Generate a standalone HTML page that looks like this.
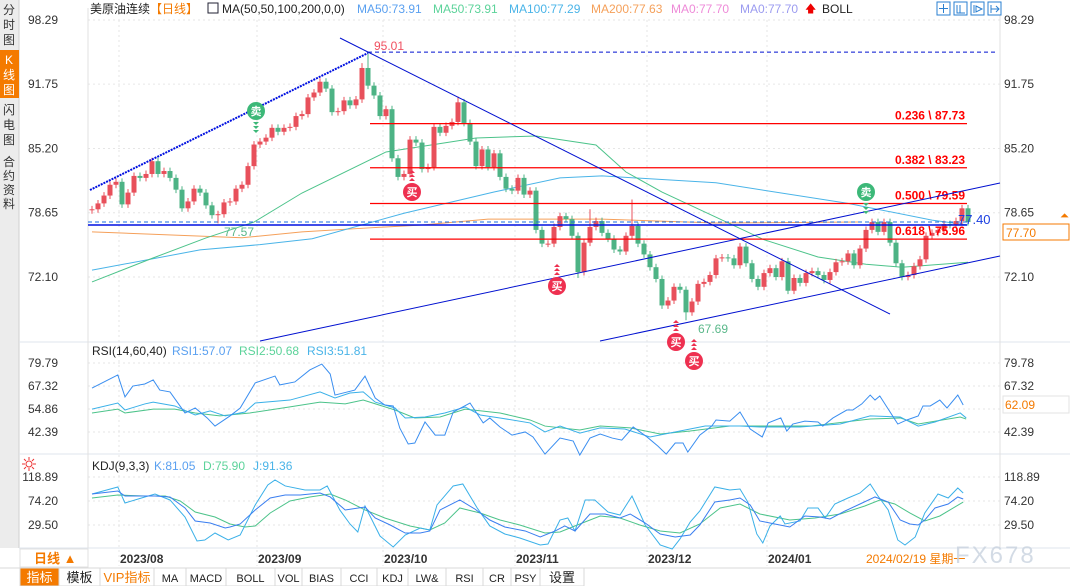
<!DOCTYPE html>
<html><head><meta charset="utf-8">
<style>
body{margin:0;width:1070px;height:586px;overflow:hidden;background:#fff;font-family:"Liberation Sans","Noto Sans CJK SC",sans-serif;}
svg{display:block}
text{font-family:"Liberation Sans","Noto Sans CJK SC",sans-serif}
</style></head><body>
<svg id="chart" width="1070" height="586" viewBox="0 0 1070 586">
<rect x="0" y="0" width="19" height="548" fill="#ececec"/>
<line x1="19" y1="0" x2="19" y2="548" stroke="#cfcfcf"/>
<rect x="0" y="50" width="19" height="48" fill="#f47a00"/>
<g font-size="12" text-anchor="middle" fill="#333">
<g><text x="9" y="14">分</text><text x="9" y="29">时</text><text x="9" y="44">图</text></g>
<g fill="#fff"><text x="9" y="64">K</text><text x="9" y="79">线</text><text x="9" y="94">图</text></g>
<g><text x="9" y="114">闪</text><text x="9" y="129">电</text><text x="9" y="144">图</text></g>
<g><text x="9" y="166">合</text><text x="9" y="180">约</text><text x="9" y="194">资</text><text x="9" y="208">料</text></g>
</g>
<g id="grid" stroke="#e6e6e6" stroke-dasharray="2,3"></g>
<line x1="19" y1="342" x2="1070" y2="342" stroke="#dfe6ee"/>
<line x1="19" y1="454" x2="1070" y2="454" stroke="#dfe6ee"/>
<line x1="19" y1="548" x2="1070" y2="548" stroke="#dfe6ee"/>
<line x1="88" y1="8" x2="88" y2="548" stroke="#e0e0e0"/>
<line x1="1000" y1="8" x2="1000" y2="548" stroke="#e0e0e0"/>
<g id="mas"></g>
<g id="candles"></g>
<g id="overlays"></g>
<g id="ind"></g>
<g id="axes" font-size="12" fill="#333"></g>
<g font-size="12">
<text x="90" y="13" fill="#222">美原油连续</text>
<text x="150" y="13" fill="#f47a00">【日线】</text>
<rect x="208" y="3" width="10" height="10" fill="none" stroke="#223"/>
<text x="222" y="13" fill="#222">MA(50,50,100,200,0,0)</text>
<text x="357" y="13" fill="#5aa0f0">MA50:73.91</text>
<text x="433" y="13" fill="#5cd39a">MA50:73.91</text>
<text x="509" y="13" fill="#4ab4e8">MA100:77.29</text>
<text x="591" y="13" fill="#f5a05a">MA200:77.63</text>
<text x="671" y="13" fill="#ee8ad8">MA0:77.70</text>
<text x="740" y="13" fill="#9b9bf0">MA0:77.70</text>
<text x="805" y="12" fill="#e00" font-size="11">🡅</text>
<text x="822" y="13" fill="#222">BOLL</text>
</g>
<g stroke="#2a7fd0" fill="#fff">
<rect x="937" y="2" width="13" height="13"/><rect x="954" y="2" width="13" height="13"/><rect x="971" y="2" width="13" height="13"/><rect x="988" y="2" width="13" height="13"/>
<path d="M943.5 4v9M939 8.5h9M957 5v8h8M960 5v8M974 5v8M976 6l6 3-6 3zM991 5v8M991 9h8M996 6l3 3-3 3" fill="none"/>
</g>
<g font-size="12">
<text x="92" y="355" fill="#222">RSI(14,60,40)</text>
<text x="172" y="355" fill="#5aa0f0">RSI1:57.07</text>
<text x="239" y="355" fill="#5cd39a">RSI2:50.68</text>
<text x="307" y="355" fill="#4ab4e8">RSI3:51.81</text>
</g>
<g font-size="12">
<text x="92" y="470" fill="#222">KDJ(9,3,3)</text>
<text x="154" y="470" fill="#5aa0f0">K:81.05</text>
<text x="203" y="470" fill="#5cd39a">D:75.90</text>
<text x="253" y="470" fill="#4ab4e8">J:91.36</text>
</g>
<g stroke="#e33" fill="none"><circle cx="29" cy="464" r="3"/><path d="M29 457v3M29 468v3M22 464h3M33 464h3M24 459l2 2M32 467l2 2M24 469l2-2M32 461l2-2"/></g>
<rect x="20" y="549" width="68" height="18" fill="#fff" stroke="#e0e0e0"/>
<text x="34" y="563" font-size="13" fill="#f47a00" font-weight="bold">日线 ▲</text>
<g id="dates" font-size="12" font-weight="bold" fill="#333"></g>
<text x="866" y="563" font-size="12" fill="#f47a00">2024/02/19 星期一</text>
<text x="955" y="563" font-size="24" fill="#c9d3df" opacity="0.8" letter-spacing="2">FX678</text>
<g id="toolbar" font-size="12"></g>
</svg>
<script>
const closes=[79.0,79.6,80.4,81.5,81.8,79.5,80.7,82.4,82.2,82.6,83.9,82.6,82.9,82.2,81.0,79.1,79.8,81.1,80.7,79.4,78.4,78.5,79.7,79.8,81.1,81.5,83.4,85.6,85.9,86.3,87.3,86.9,87.3,87.4,88.5,88.7,90.4,90.9,92.0,91.3,88.9,89.0,90.1,89.6,90.2,93.4,91.6,90.6,88.5,89.2,84.2,82.3,82.6,86.1,85.8,83.1,83.3,87.4,86.8,87.5,87.9,89.9,87.8,85.9,83.4,85.1,83.3,84.7,82.3,81.1,80.9,82.2,80.5,80.9,76.9,75.5,75.5,77.2,78.3,78.0,76.3,72.6,75.6,77.2,77.8,76.6,76.0,74.9,74.7,76.3,77.3,75.5,74.4,73.1,71.9,69.2,69.7,71.1,70.8,68.5,69.6,71.4,71.6,72.3,74.0,74.1,74.0,73.3,75.2,73.5,71.9,71.1,72.5,73.0,72.1,73.7,70.7,72.0,71.5,72.5,72.7,72.3,71.8,72.6,73.6,73.7,74.5,73.3,75.0,76.9,77.7,76.7,77.7,75.6,73.5,72.1,72.3,73.2,73.9,76.3,76.6,76.9,77.5,77.4,77.8,79.1,77.7];
const firstOpen=78.9;
const highOverrides=[[45,93.9],[46,95.01],[61,90.5],[83,79.0],[90,80.0]];
const lowOverrides=[[21,77.57],[99,67.69],[81,72.0]];
const ma50=[[0,71.6],[10,74.0],[19,76.08],[27,77.7],[35,80.66],[49,84.84],[64,86.27],[74,86.47],[84,85.55],[89,82.8],[95,80.76],[104,78.2],[112,75.9],[121,74.14],[129,73.4],[135,73.1],[146,73.6]];
const ma100=[[0,72.8],[18,74.86],[28,75.4],[36.7,76.0],[52,78.6],[67,80.76],[78,82.2],[85,82.4],[104,81.7],[126,79.6],[140,77.9],[146,77.4]];
const ma200=[[0,76.7],[25,76.1],[35,76.7],[46,77.1],[55,77.4],[66,78.0],[85,78.0],[104,77.6],[128,77.7]];
const fibLevels=[87.73,83.23,79.59,75.96];
const fibRatios=["0.236","0.382","0.500","0.618"];
const mainTicks=[98.29,91.75,85.20,78.65,72.10];
const rsiTicks=[79.79,67.32,54.86,42.39];
const rsiRightTicks=[79.78,67.32,42.39];
const kdjTicks=[118.89,74.20,29.50];
const rsi1=[[0,66.2],[4.3,73.3],[5.5,61.4],[6.8,67.3],[8.8,68.4],[10.2,70.6],[11.3,65.1],[13,64.1],[15.5,52.7],[17.2,55.4],[19.2,50.0],[20.5,45.6],[23,51.1],[24.7,55.4],[27.2,69.0],[30.5,72.7],[31.3,67.9],[33.8,69.5],[36.3,76.0],[38.3,79.2],[39.7,73.8],[40.5,62.4],[43.8,65.1],[45.5,72.7],[47.2,60.8],[48.8,57.0],[50.2,56.5],[51.3,44.5],[52.7,35.9],[53.8,36.4],[55.5,47.8],[57.2,40.7],[58.8,40.7],[60.2,53.2],[63,58.1],[65.2,47.3],[66.3,50.0],[68,45.1],[70,40.7],[72.2,42.4],[73.5,39.7],[75.5,30.4],[78,39.1],[80.2,37.5],[81.3,29.9],[83,39.1],[84.7,41.3],[86.7,39.1],[88.3,38.0],[90.2,45.1],[92.5,39.7],[94.3,34.8],[95.7,30.4],[97.2,36.4],[98.5,36.4],[99.3,31.5],[101.3,40.7],[103.3,45.6],[104,48.9],[106.3,48.3],[108,53.2],[109.7,44.0],[111.7,39.7],[112.7,47.3],[114.8,50.0],[115.8,42.9],[116.8,46.7],[118.8,48.3],[121,47.8],[121.8,45.6],[123.5,50.0],[125.8,54.3],[126.8,54.3],[128.3,57.6],[129.7,62.4],[130.5,59.7],[131.3,61.9],[134.3,46.7],[135.8,48.9],[137.7,51.1],[138.5,56.5],[139.7,56.5],[141.3,59.7],[142.5,55.4],[144.3,62.4],[145.2,57.0]];
const rsi2=[[0,52.7],[4.3,54.8],[5.5,52.7],[10.2,54.8],[13.8,54.8],[17.2,52.7],[21.3,51.1],[26.3,52.7],[33,56.0],[38,58.6],[42.2,57.6],[45.2,59.7],[50.5,54.3],[53.8,50.0],[58,50.5],[62.2,54.8],[68,52.7],[73,48.9],[75.5,45.6],[81.3,43.5],[84.7,45.6],[89.7,44.6],[94.7,41.3],[99.7,42.9],[106.3,45.6],[113,45.6],[119.7,45.6],[129.7,49.4],[134.7,50.0],[137.7,46.7],[144.7,50.5],[145.7,49.4]];
const rsi3=[[0,54.8],[4.3,58.1],[5.5,54.3],[8.8,57.6],[10.2,58.6],[13.8,56.5],[17.2,51.6],[19.7,53.8],[22.2,51.1],[25.5,53.2],[27.2,58.1],[33,59.7],[38,64.1],[40.5,60.8],[43,63.5],[45.2,64.1],[47.2,58.6],[50.5,55.4],[52.2,50.0],[55.5,50.5],[58.8,52.7],[62.2,55.9],[64.7,51.6],[68,50.0],[73,47.3],[75.5,42.4],[78,45.6],[81.3,41.8],[84.7,44.6],[88.8,44.0],[93,39.7],[98,42.9],[102.2,45.6],[108,45.6],[111.3,45.1],[118,45.1],[124.7,46.7],[129.7,51.1],[134.7,50.5],[137.7,45.6],[140.5,47.8],[144.7,52.7],[145.7,50.0]];
const kdjK=[[0,87.2],[4.3,92.8],[5.5,83.5],[8.8,83.5],[10.5,83.5],[13,81.7],[15.5,61.2],[17.2,37.0],[19.7,33.2],[22.2,23.9],[23,25.8],[24.7,31.4],[27.2,57.5],[29.7,79.8],[32.2,85.4],[34.7,85.4],[38,89.1],[39.7,81.7],[42.2,57.5],[45.5,63.0],[47.2,42.6],[49.7,29.5],[52.2,14.6],[54.7,14.6],[56.3,18.4],[58,57.5],[61.3,76.1],[63.8,59.3],[66.3,38.8],[68.8,25.8],[72.2,18.4],[74.7,7.2],[77.2,18.4],[78.8,27.7],[80.5,18.4],[83,50.0],[85.5,50.0],[88,42.6],[89.7,50.0],[92.2,33.2],[94.7,12.8],[97.2,7.2],[99.7,10.9],[101.3,29.5],[103.8,72.3],[106.3,76.1],[108,79.8],[109.7,66.8],[111.3,37.0],[113.8,31.4],[116.3,25.8],[118.8,46.3],[121.3,44.4],[123,40.7],[125.5,55.6],[128,68.6],[130.5,81.7],[132.7,72.3],[134.7,38.8],[136.3,31.4],[137.7,29.5],[138.8,38.8],[140.5,61.2],[142.7,68.6],[144.3,81.7],[145.2,77.9]];
const kdjD=[[0,79.8],[4.3,85.4],[8.8,83.5],[12.2,83.5],[14.7,74.2],[17.2,53.7],[20.5,44.4],[23,31.4],[25.5,25.8],[27.2,27.7],[29.7,51.9],[33,74.2],[36.3,81.7],[39.7,87.2],[42.2,76.1],[45.5,57.5],[48.8,42.6],[53,27.7],[56.3,20.2],[58.8,33.2],[61.3,61.2],[64.7,51.9],[68,38.8],[71.3,29.5],[75.5,14.6],[78,16.5],[81.3,31.4],[84.7,46.3],[88,42.6],[91.3,29.5],[94.7,18.4],[98,14.6],[101.3,31.4],[104.7,61.2],[108,68.6],[111.3,50.0],[116.3,38.8],[120.5,42.6],[124.7,50.0],[128.8,64.9],[131.3,76.1],[133.8,68.6],[136.3,51.9],[138.8,37.0],[141.3,46.3],[145.2,72.3]];
const kdjJ=[[0,87.2],[4.3,100.3],[5.5,70.5],[8.8,81.7],[10.5,87.2],[13,76.1],[15.5,44.4],[17.5,-0.3],[18.8,1.6],[20.5,14.6],[22.7,1.6],[24.7,10.9],[27.2,66.8],[29.3,104.0],[30.5,113.3],[32.2,102.2],[35.5,94.7],[38,94.7],[39.2,102.2],[41.3,57.5],[43,31.4],[44.3,16.5],[45.5,64.9],[48,9.0],[50.2,-11.4],[52.2,10.9],[54.7,23.9],[56.3,20.2],[57.5,66.8],[60.2,102.2],[61.8,105.9],[64.2,61.2],[66.3,27.7],[68.8,12.8],[71.3,5.3],[74.7,-7.7],[76,-5.9],[78,38.8],[79.3,42.6],[80.5,18.4],[82.2,76.1],[83.8,76.1],[86,53.7],[88,48.1],[90,83.5],[92.2,29.5],[94.7,-7.7],[96.7,-15.2],[98,3.5],[99.7,35.1],[101.3,55.6],[103.8,100.3],[106.3,94.7],[108,96.6],[109.3,72.3],[110.8,12.8],[111.8,-4.0],[113,27.7],[114.7,46.3],[115.5,31.4],[118,37.0],[119.3,61.2],[121,61.2],[122.2,42.6],[123.8,68.6],[126,79.8],[128,89.1],[129.7,105.9],[131,83.5],[132.7,57.5],[134.3,1.6],[135.5,-7.7],[137.2,7.2],[138.8,51.9],[141,87.2],[142.7,79.8],[144.3,98.4],[145.2,89.1]];
const monthLabels=["2023/08","2023/09","2023/10","2023/11","2023/12","2024/01"];
const monthStarts=[4.5,27.5,48.5,70.5,92.5,112.5];
const toolbarItems=["指标","模板","VIP指标","MA","MACD","BOLL","VOL","BIAS","CCI","KDJ","LW&","RSI","CR","PSY","设置"];
const toolbarWidths=[39,41,54,32,40,49,27,39,36,31,38,37,28,29,44];

const NS="http://www.w3.org/2000/svg";
const xS=i=>92+i*6;
const yM=v=>20+(98.29-v)*9.813;
const yR=v=>363+(79.78-v)*1.845;
const yK=v=>477+(118.89-v)*0.537;
function mk(tag,attrs,parent){const e=document.createElementNS(NS,tag);for(const k in attrs)e.setAttribute(k,attrs[k]);parent.appendChild(e);return e;}
const G=id=>document.getElementById(id);

const grid=G('grid');
mainTicks.forEach(v=>{const l=mk('line',{x1:88,x2:1000,y1:yM(v),y2:yM(v)},grid);});
rsiTicks.forEach(v=>{const l=mk('line',{x1:88,x2:1000,y1:yR(v),y2:yR(v)},grid);});
kdjTicks.forEach(v=>{const l=mk('line',{x1:88,x2:1000,y1:yK(v),y2:yK(v)},grid);});
monthStarts.forEach(i=>{const l=mk('line',{x1:xS(i),x2:xS(i),y1:20,y2:566},grid);});

const ax=G('axes');
mainTicks.forEach(v=>{
 let t=mk('text',{x:58,y:yM(v)+4,'text-anchor':'end'},ax);t.textContent=v.toFixed(2);
 t=mk('text',{x:1004,y:yM(v)+4},ax);t.textContent=v.toFixed(2);
});
rsiTicks.forEach(v=>{
 const t=mk('text',{x:58,y:yR(v)+4,'text-anchor':'end'},ax);t.textContent=v.toFixed(2);
});
rsiRightTicks.forEach(v=>{
 const t=mk('text',{x:1004,y:yR(v)+4},ax);t.textContent=v.toFixed(2);
});
kdjTicks.forEach(v=>{
 let t=mk('text',{x:58,y:yK(v)+4,'text-anchor':'end'},ax);t.textContent=v.toFixed(2);
 t=mk('text',{x:1004,y:yK(v)+4},ax);t.textContent=v.toFixed(2);
});

function poly(arr,ys,color,parent,name,w){const p=mk('polyline',{points:arr.map(d=>xS(d[0])+','+ys(d[1])).join(' '),fill:'none',stroke:color,'stroke-width':w||1},parent);return p;}
const mas=G('mas');
poly(ma200,yM,'#f5a05a',mas,'ma200-line');
poly(ma100,yM,'#4ab4e8',mas,'ma100-line');
poly(ma50,yM,'#4cc38a',mas,'ma50-line');

const cg=G('candles');
closes.forEach((c,i)=>{
 const o=i===0?firstOpen:closes[i-1];
 let h=Math.max(o,c)+0.35,l=Math.min(o,c)-0.35;
 highOverrides.forEach(d=>{if(d[0]===i)h=d[1];});
 lowOverrides.forEach(d=>{if(d[0]===i)l=d[1];});
 const col=c>=o?'#e8505b':'#4db385';
 const x=xS(i);
 const g=mk('g',{},cg);
 
 
 mk('line',{x1:x,x2:x,y1:yM(h),y2:yM(l),stroke:col},g);
 const top=yM(Math.max(o,c)),bot=yM(Math.min(o,c));
 mk('rect',{x:x-2.5,y:top,width:5,height:Math.max(1,bot-top),fill:col},g);
});

const ov=G('overlays');
function line(x1,y1,x2,y2,attrs,name){const l=mk('line',Object.assign({x1,y1,x2,y2},attrs),ov);return l;}
line(368,yM(95.01),998,yM(95.01),{stroke:'#0010d0','stroke-dasharray':'4,3'},'high-dashed-line');
line(88,yM(77.70),967,yM(77.70),{stroke:'#1a6ee0','stroke-dasharray':'4,3'},'last-price-dashed-line');
line(88,yM(77.40),967,yM(77.40),{stroke:'#0010e0','stroke-width':1.5},'support-line');
fibLevels.forEach((v,k)=>{
 line(370,yM(v),967,yM(v),{stroke:'#f00','stroke-width':1.2},'fib-line');
 const t=mk('text',{x:965,y:yM(v)-4,'text-anchor':'end','font-size':12,'font-weight':'bold',fill:'#f00'},ov);
 t.textContent=fibRatios[k]+' \\ '+v.toFixed(2);
 
 
});
line(90,190,368,53,{stroke:'#0010e0','stroke-width':2,'stroke-dasharray':'2,1'},'upper-trendline');
line(340,38,890,314,{stroke:'#0010d0'},'descending-trendline');
line(260,341,1000,183,{stroke:'#0010d0'},'channel-upper-line');
line(600,341,1000,256,{stroke:'#0010d0'},'channel-lower-line');
function lbl(x,y,s,col,name,size){const t=mk('text',{x,y,fill:col,'font-size':size||12},ov);t.textContent=s;}
lbl(374,50,'95.01','#f05060','high-label');
lbl(224,236,'77.57','#5ab88a','low-label');
lbl(698,333,'67.69','#5ab88a','low2-label');
lbl(958,224,'77.40','#1a3ee0','support-value-label',13);
const pb=mk('rect',{x:1003,y:224,width:66,height:16,fill:'#fff',stroke:'#f47a00'},ov);

lbl(1006,237,'77.70','#f47a00','last-price-label');
const pb2=mk('rect',{x:1003,y:396,width:66,height:17,fill:'#fff',stroke:'#e3e3e3'},ov);

lbl(1005,409,'62.09','#f47a00','rsi-value-label');
lbl(1060,219,'⏶','#f47a00','alert-icon',11);
function sig(x,y,txt,col,up,name){
 const g=mk('g',{},ov);
 
 
 mk('circle',{cx:x,cy:y,r:9,fill:col},g);
 const t=mk('text',{x:x,y:y+4,'text-anchor':'middle','font-size':11,fill:'#fff','font-weight':'bold'},g);t.textContent=txt;
 for(let k=0;k<3;k++){const yy=up?y-13-k*4:y+12+k*4;mk('path',{d:up?`M${x-3} ${yy+2}L${x} ${yy-1}L${x+3} ${yy+2}Z`:`M${x-3} ${yy-1}L${x} ${yy+2}L${x+3} ${yy-1}Z`,fill:col},g);}
}
sig(256,111,'卖','#3cb878',false,'sell-signal');
sig(866,192,'卖','#3cb878',false,'sell-signal');
sig(412,192,'买','#ee3050',true,'buy-signal');
sig(557,286,'买','#ee3050',true,'buy-signal');
sig(676,342,'买','#ee3050',true,'buy-signal');
sig(694,361,'买','#ee3050',true,'buy-signal');

const ind=G('ind');
poly(rsi2,yR,'#4cc38a',ind,'rsi2-line');
poly(rsi3,yR,'#3ab0e8',ind,'rsi3-line');
poly(rsi1,yR,'#3a8ef0',ind,'rsi1-line');
poly(kdjD,yK,'#4cc38a',ind,'kdj-d-line');
poly(kdjJ,yK,'#3ab0e8',ind,'kdj-j-line');
poly(kdjK,yK,'#3a7ef0',ind,'kdj-k-line');

const dg=G('dates');
monthLabels.forEach((s,k)=>{const t=mk('text',{x:xS(monthStarts[k])+1,y:563},dg);t.textContent=s;});

const tb=G('toolbar');
let tx=20;
mk('rect',{x:0,y:568,width:1070,height:18,fill:'#fff'},tb);
mk('line',{x1:0,x2:1070,y1:568,y2:568,stroke:'#d8d8d8'},tb);
toolbarItems.forEach((s,k)=>{
 const w=toolbarWidths[k];
 const g=mk('g',{},tb);
 
 
 mk('rect',{x:tx,y:568,width:w,height:18,fill:k===0?'#f47a00':'#fff',stroke:'#d8d8d8'},g);
 const t=mk('text',{x:tx+w/2,y:582,'text-anchor':'middle','font-size':k<3||k===14?13:11,fill:k===0?'#fff':(k===2?'#f47a00':'#222'),'font-family':k>=3&&k<14?'Liberation Mono, monospace':'Liberation Sans, Noto Sans CJK SC, sans-serif'},g);
 t.textContent=s;
 tx+=w;
});
</script>
</body></html>
